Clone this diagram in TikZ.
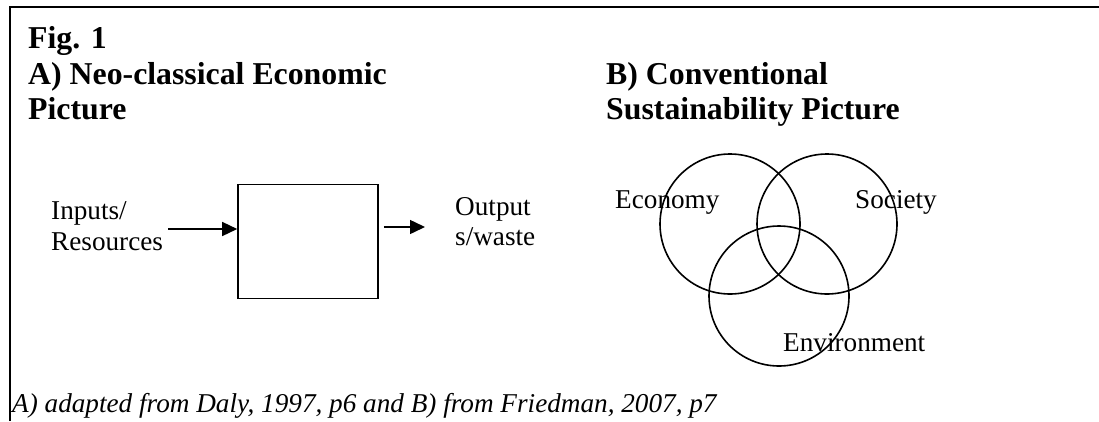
\documentclass[tikz,border=0pt]{standalone}
\usepackage{fontspec}
\setmainfont{Liberation Serif}
\usetikzlibrary{arrows.meta}
\begin{document}
\begin{tikzpicture}[x=1pt,y=-1pt,
  heading/.style={anchor=base west,inner sep=0pt,font=\fontsize{31.8}{32}\selectfont\bfseries},
  lbltext/.style={anchor=base west,inner sep=0pt,align=left,font=\fontsize{27.2}{30.5}\selectfont},
  captext/.style={anchor=base west,inner sep=0pt,font=\fontsize{27.2}{31}\selectfont\itshape},
  ring/.style={draw,circle,line width=1.6pt,minimum size=140pt,inner sep=0pt},
  blockbox/.style={draw,rectangle,line width=1.6pt,minimum width=140pt,minimum height=114pt,inner sep=0pt},
  arr/.style={line width=1.5pt,-{Triangle[length=15pt,width=14pt]}},
  framestyle/.style={line width=2pt}]
\useasboundingbox (0,0) rectangle (1099,421);
\fill[white] (0,0) rectangle (1099,421);
% frame
\draw[framestyle] (10,421) -- (10,7) -- (1099,7);
% headings
\node[heading] (fig) at (28,48.5) {Fig. 1};
\node[heading] (ha1) at (28,84) {A) Neo-classical Economic};
\node[heading] (ha2) at (28,119.5) {Picture};
\node[heading] (hb1) at (606,84) {B) Conventional};
\node[heading] (hb2) at (606,119.5) {Sustainability Picture};
% part A
\node[blockbox] (box) at (308,241.5) {};
\node[lbltext] (inp) at (51,250) {Inputs/\\Resources};
\node[lbltext] (outp) at (455,245.5) {Output\\s/waste};
\coordinate (a1s) at (168,229);
\coordinate (a2e) at (425,227);
\draw[arr] (a1s) -- (a1s -| box.west);
\draw[arr,shorten <=5pt] (box.east |- a2e) -- (a2e);
% part B
\node[ring] (econ) at (730,224) {};
\node[ring] (soc) at (827,224) {};
\node[ring] (env) at (779,296) {};
\node[lbltext] (leco) at (615,208) {Economy};
\node[lbltext] (lsoc) at (855,208) {Society};
\node[lbltext] (lenv) at (783,351.7) {Environment};
% caption
\node[captext] (caption) at (12,412.7) {A) adapted from Daly, 1997, p6 and B) from Friedman, 2007, p7};
\end{tikzpicture}
\end{document}
